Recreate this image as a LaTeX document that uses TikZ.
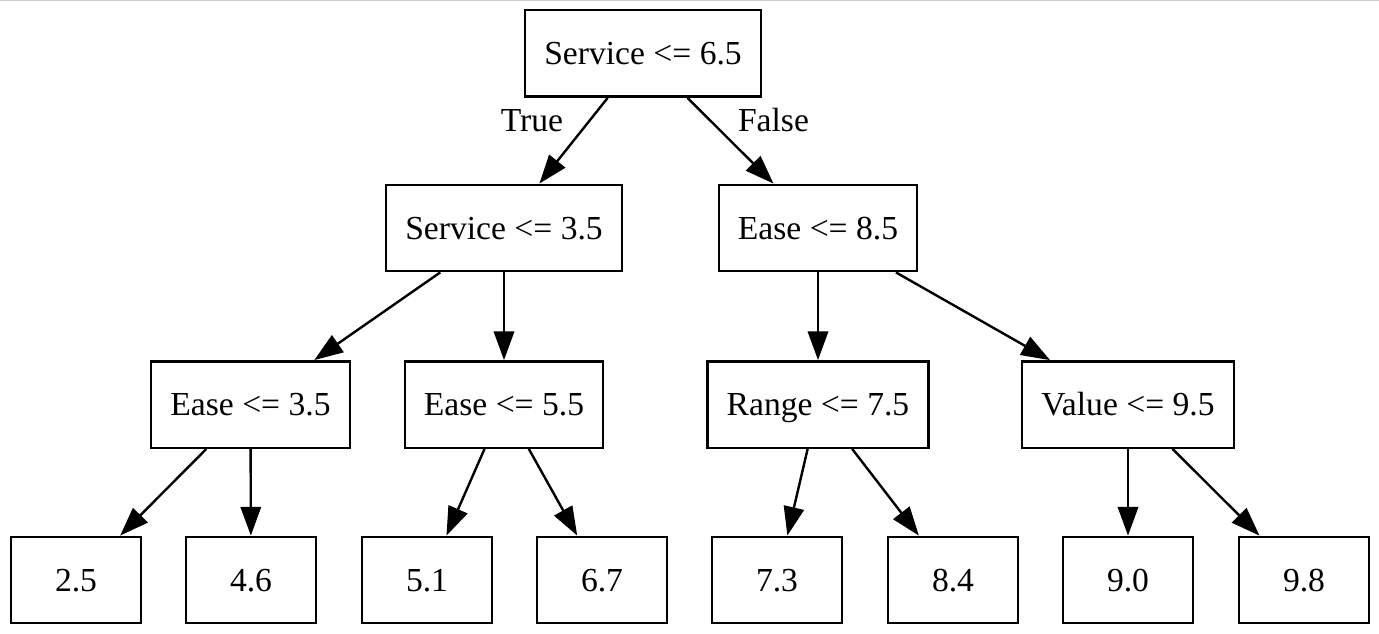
\documentclass[tikz,border=0pt]{standalone}
\usepackage{fontspec}
\setmainfont{Liberation Serif}
\usetikzlibrary{arrows.meta}
\begin{document}
\begin{tikzpicture} [x=0.41667pt, y=-0.41667pt, line width=1pt,
	>={Triangle[length=12pt, width=8.5pt]},
	test/.style={draw, rectangle, font=\fontsize{14}{17}\selectfont, inner xsep=8pt, inner ysep=0pt, minimum width=54pt, minimum height=36pt, text height=9.4pt, text depth=0pt},
	leaf/.style={test},
	branch/.style={->},
	answer/.style={font=\fontsize{14}{17}\selectfont, anchor=base, inner sep=0pt}]
	\useasboundingbox (0,0) rectangle (1379,634);
	\draw [gray!40, line width=0.42pt] (0,0.5) -- (1379,0.5);
	\node [test] (s65) at (643,53.5) {Service <= 6.5};
	\node [test] (s35) at (504,228) {Service <= 3.5};
	\node [test] (e85) at (818,228) {Ease <= 8.5};
	\node [test] (e35) at (250.5,404.5) {Ease <= 3.5};
	\node [test] (e55) at (504,404.5) {Ease <= 5.5};
	\node [test] (r75) at (818,404.5) {Range <= 7.5};
	\node [test] (v95) at (1128,404.5) {Value <= 9.5};
	\node [leaf] (o25) at (76,580) {2.5};
	\node [leaf] (o46) at (251,580) {4.6};
	\node [leaf] (o51) at (427,580) {5.1};
	\node [leaf] (o67) at (602,580) {6.7};
	\node [leaf] (o73) at (777,580) {7.3};
	\node [leaf] (o84) at (953,580) {8.4};
	\node [leaf] (o90) at (1128,580) {9.0};
	\node [leaf] (o98) at (1304,580) {9.8};
	\draw [branch] (s65) -- (s35);
	\draw [branch] (s65) -- (e85);
	\draw [branch] (s35) -- (e35);
	\draw [branch] (s35) -- (e55);
	\draw [branch] (e85) -- (r75);
	\draw [branch] (e85) -- (v95);
	\draw [branch] (e35) -- (o25);
	\draw [branch] (e35) -- (o46);
	\draw [branch] (e55) -- (o51);
	\draw [branch] (e55) -- (o67);
	\draw [branch] (r75) -- (o73);
	\draw [branch] (r75) -- (o84);
	\draw [branch] (v95) -- (o90);
	\draw [branch] (v95) -- (o98);
	\node [answer] (true) at (532,131.5) {True};
	\node [answer] (false) at (773.5,131.5) {False};
\end{tikzpicture}
\end{document}
